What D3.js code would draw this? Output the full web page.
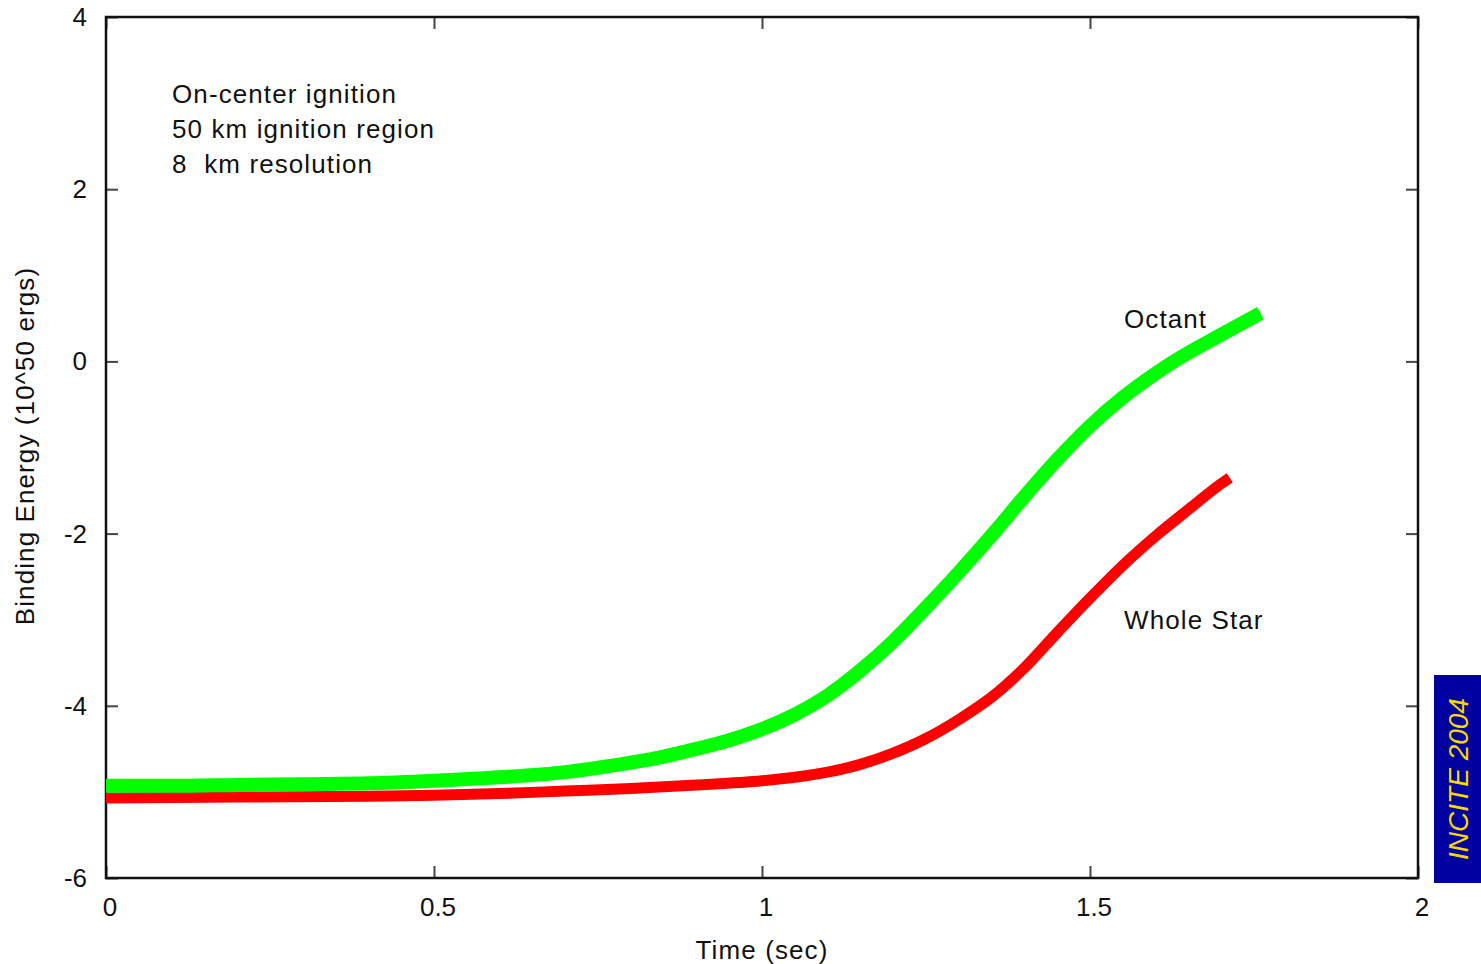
<!DOCTYPE html>
<html>
<head>
<meta charset="utf-8">
<script src="https://d3js.org/d3.v7.min.js"></script>
<style>
  body { margin: 0; background: #fff; }
  text { font-family: 'Liberation Sans', Arial, sans-serif; fill: #111; }
</style>
</head>
<body>
<svg width="1481" height="964"></svg>
<script>
const octantTime = [0, 0.1, 0.2, 0.3, 0.4, 0.5, 0.6, 0.7, 0.75, 0.8, 0.85, 0.9, 0.95, 1.0,
  1.05, 1.1, 1.15, 1.2, 1.25, 1.3, 1.35, 1.4, 1.45, 1.5, 1.55, 1.6, 1.65, 1.7, 1.76];
const octantEnergy = [-4.93, -4.93, -4.92, -4.91, -4.90, -4.87, -4.83, -4.77, -4.72, -4.66,
  -4.59, -4.50, -4.40, -4.27, -4.10, -3.88, -3.59, -3.25, -2.86, -2.45, -2.02, -1.57,
  -1.14, -0.75, -0.42, -0.14, 0.10, 0.31, 0.56];

const wholeTime = [0, 0.2, 0.4, 0.5, 0.6, 0.7, 0.8, 0.9, 1.0, 1.05, 1.1, 1.15, 1.2, 1.25,
  1.3, 1.35, 1.4, 1.45, 1.5, 1.55, 1.6, 1.65, 1.7, 1.713];
const wholeEnergy = [-5.07, -5.06, -5.05, -5.04, -5.02, -4.99, -4.96, -4.92, -4.87, -4.83,
  -4.77, -4.68, -4.55, -4.38, -4.16, -3.90, -3.56, -3.15, -2.75, -2.37, -2.03, -1.72,
  -1.42, -1.35];

const xTicks = [0, 0.5, 1, 1.5, 2];
const yTicks = [-6, -4, -2, 0, 2, 4];
const notes = ['On-center ignition', '50 km ignition region', '8  km resolution'];

function plotChart() {
  const left = 106, top = 17, right = 1418, bottom = 878;
  const svg = d3.select('svg');

  const xScale = d3.scaleLinear().domain([0, 2]).range([left, right]);
  const yScale = d3.scaleLinear().domain([-6, 4]).range([bottom, top]);

  // mirrored inward ticks, gnuplot style
  const axes = [
    [d3.axisBottom(xScale), `translate(0, ${bottom})`, xTicks],
    [d3.axisTop(xScale), `translate(0, ${top})`, xTicks],
    [d3.axisLeft(yScale), `translate(${left}, 0)`, yTicks],
    [d3.axisRight(yScale), `translate(${right}, 0)`, yTicks]
  ];
  axes.forEach(([axis, tr, ticks]) => {
    const g = svg.append('g')
        .attr('transform', tr)
        .call(axis.tickValues(ticks).tickSize(-12).tickFormat(''));
    g.select('.domain').remove();
    g.selectAll('.tick line').attr('stroke', '#444').attr('stroke-width', 2);
  });

  svg.append('rect')
      .attr('x', left)
      .attr('y', top)
      .attr('width', right - left)
      .attr('height', bottom - top)
      .attr('fill', 'none')
      .attr('stroke', '#111')
      .attr('stroke-width', 2.5);

  svg.selectAll('.xlab')
      .data(xTicks)
      .enter().append('text')
      .attr('x', d => xScale(d) + 4)
      .attr('y', bottom + 38)
      .attr('text-anchor', 'middle')
      .style('font-size', '26px')
      .text(d => d);

  svg.selectAll('.ylab')
      .data(yTicks)
      .enter().append('text')
      .attr('x', left - 19)
      .attr('y', d => yScale(d) + 9)
      .attr('text-anchor', 'end')
      .style('font-size', '26px')
      .text(d => d);

  const line = d3.line()
      .x(d => xScale(d[0]))
      .y(d => yScale(d[1]))
      .curve(d3.curveMonotoneX);

  svg.append('path')
      .attr('d', line(wholeTime.map((t, i) => [t, wholeEnergy[i]])))
      .attr('fill', 'none')
      .attr('stroke', '#ff0000')
      .attr('stroke-width', 11)
      .attr('stroke-linejoin', 'round');

  svg.append('path')
      .attr('d', line(octantTime.map((t, i) => [t, octantEnergy[i]])))
      .attr('fill', 'none')
      .attr('stroke', '#00ff00')
      .attr('stroke-width', 14)
      .attr('stroke-linejoin', 'round');

  svg.selectAll('.note')
      .data(notes)
      .enter().append('text')
      .attr('x', 172)
      .attr('y', (d, i) => 103 + i * 35)
      .style('font-size', '26px')
      .style('letter-spacing', '1.1px')
      .style('white-space', 'pre')
      .text(d => d);

  svg.append('text')
      .attr('x', 1124)
      .attr('y', 328)
      .style('font-size', '26px')
      .style('letter-spacing', '1.1px')
      .text('Octant');

  svg.append('text')
      .attr('x', 1124)
      .attr('y', 629)
      .style('font-size', '26px')
      .style('letter-spacing', '1.1px')
      .text('Whole Star');

  svg.append('text')
      .attr('x', 762)
      .attr('y', 959)
      .attr('text-anchor', 'middle')
      .style('font-size', '26px')
      .style('letter-spacing', '1.1px')
      .text('Time (sec)');

  svg.append('text')
      .attr('transform', 'translate(34, 446) rotate(-90)')
      .attr('text-anchor', 'middle')
      .style('font-size', '26px')
      .style('letter-spacing', '1.1px')
      .text('Binding Energy (10^50 ergs)');

  // INCITE badge
  svg.append('rect')
      .attr('x', 1434)
      .attr('y', 675)
      .attr('width', 47)
      .attr('height', 208)
      .attr('fill', '#0000a0');
  svg.append('text')
      .attr('transform', 'translate(1468, 779) rotate(-90)')
      .attr('text-anchor', 'middle')
      .style('font-size', '28px')
      .style('font-style', 'italic')
      .style('fill', '#f5d800')
      .text('INCITE 2004');
}

plotChart();
</script>
</body>
</html>
